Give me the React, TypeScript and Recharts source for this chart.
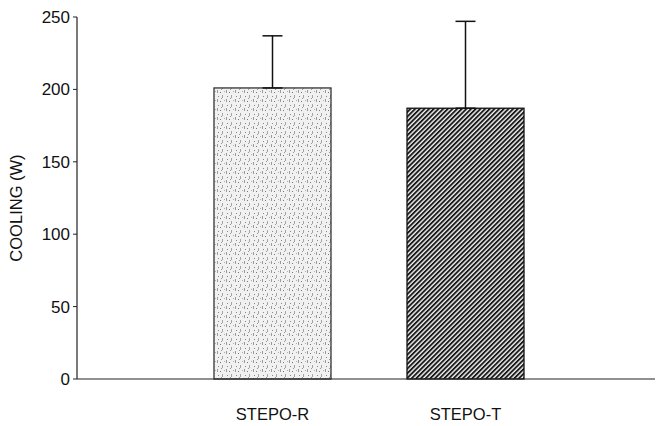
import { BarChart, Bar, XAxis, YAxis, ErrorBar } from "recharts";

const categories = ["STEPO-R", "STEPO-T"];
const cooling = [201, 187];
const errUp = [36, 60];
const yTicks = [0, 50, 100, 150, 200, 250];

const data = categories.map((name, i) => ({
  name,
  cooling: cooling[i],
  err: [0, errUp[i]],
}));

const FONT = "'Liberation Sans', Arial, sans-serif";

const BarShape = (props: any) => {
  const { x, y, width, height, index } = props;
  const id = index === 0 ? "stipple" : "hatch";
  return (
    <g>
      <defs>
        <pattern id="stipple" patternUnits="userSpaceOnUse" width="9" height="9">
          <rect width="9" height="9" fill="#f1f1f1" />
          <rect x="1" y="0" width="1" height="3" fill="#9a9a9a" />
          <rect x="4" y="2" width="1" height="1" fill="#777" />
          <rect x="6" y="5" width="1" height="3" fill="#a5a5a5" />
          <rect x="2" y="6" width="1" height="1" fill="#888" />
          <rect x="8" y="1" width="1" height="1" fill="#b0b0b0" />
          <rect x="5" y="8" width="1" height="1" fill="#999" />
        </pattern>
        <pattern
          id="hatch"
          patternUnits="userSpaceOnUse"
          width="3.3"
          height="3.3"
          patternTransform="rotate(45)"
        >
          <rect width="3.3" height="3.3" fill="#f4f4f4" />
          <rect width="1.9" height="3.3" fill="#1a1a1a" />
        </pattern>
      </defs>
      <rect
        x={x}
        y={y}
        width={width}
        height={height}
        fill={`url(#${id})`}
        stroke={index === 0 ? "#333" : "#111"}
        strokeWidth={1.3}
      />
    </g>
  );
};

// labels sit a good way below the axis in the original
const CatTick = (props: any) => {
  const { x, y, payload } = props;
  return (
    <text
      x={x}
      y={y + 29}
      textAnchor="middle"
      dominantBaseline="middle"
      fontSize={16.5}
      fontFamily={FONT}
      fill="#111"
    >
      {payload.value}
    </text>
  );
};

export default function App() {
  return (
    <div style={{ position: "absolute", left: 0, top: 0, background: "#fff" }}>
      <BarChart
        width={658}
        height={426}
        data={data}
        margin={{ top: 17, right: 3, bottom: 0, left: 0 }}
      >
        <XAxis
          dataKey="name"
          height={47}
          padding={{ left: 99, right: 93 }}
          tickLine={false}
          axisLine={{ stroke: "#222", strokeWidth: 1.2 }}
          tick={<CatTick />}
        />
        <YAxis
          width={77}
          domain={[0, 250]}
          ticks={yTicks}
          tickSize={4}
          tickMargin={3}
          axisLine={{ stroke: "#222", strokeWidth: 1.2 }}
          tickLine={{ stroke: "#222" }}
          tick={{ fontSize: 17, fill: "#111", fontFamily: FONT }}
          label={{
            content: (p: any) => {
              const vb = p.viewBox;
              const cx = vb.x + 18;
              const cy = vb.y + vb.height / 2 + 10;
              return (
                <text
                  transform={`translate(${cx},${cy}) rotate(-90)`}
                  textAnchor="middle"
                  dominantBaseline="middle"
                  fontSize={16.5}
                  fontFamily={FONT}
                  fill="#111"
                >
                  COOLING (W)
                </text>
              );
            },
          }}
        />
        <Bar dataKey="cooling" barSize={117} shape={BarShape} isAnimationActive={false}>
          <ErrorBar dataKey="err" width={10} stroke="#111" strokeWidth={1.5} direction="y" />
        </Bar>
      </BarChart>
    </div>
  );
}
